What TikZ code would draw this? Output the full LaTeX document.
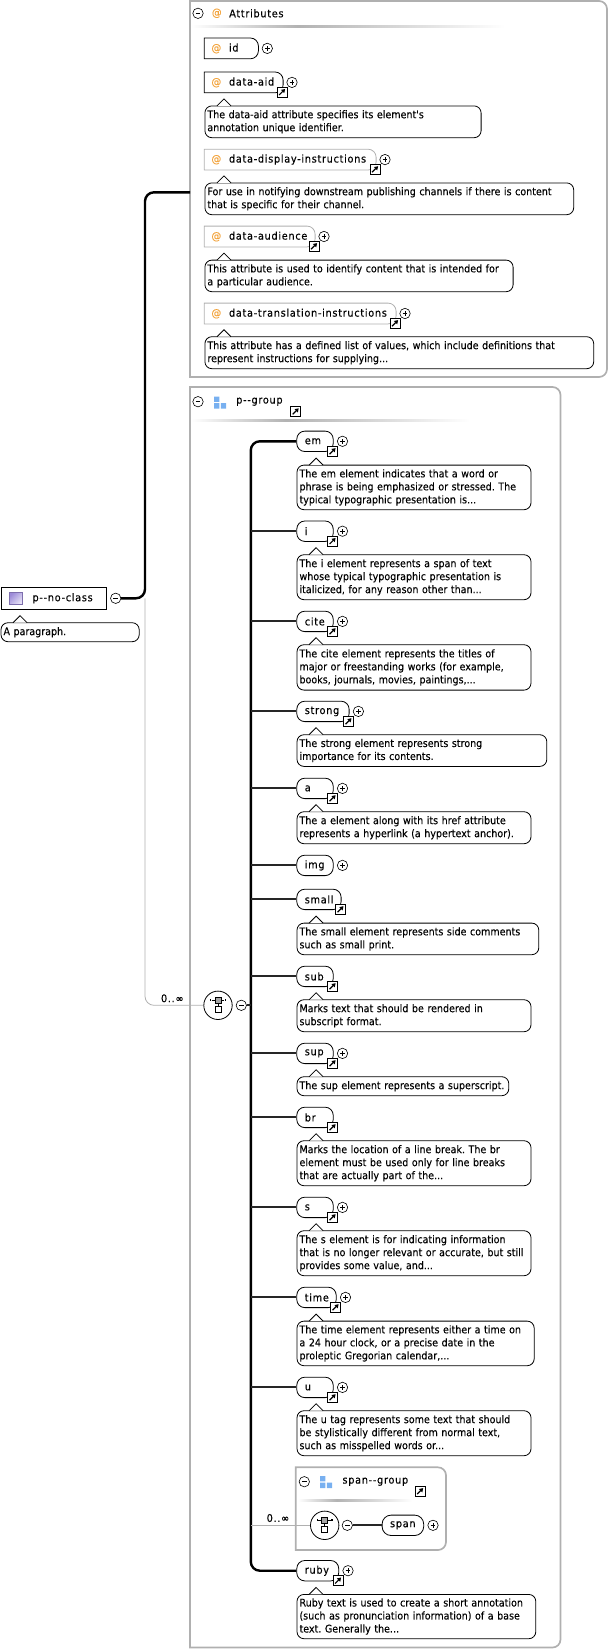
\documentclass[tikz,border=0pt]{standalone}
\usepackage{fontspec}
\usepackage{xcolor}
\usepackage{tikz}
\usetikzlibrary{arrows.meta,positioning}

\newfontfamily\notefont[FakeStretch=0.90,FakeBold=0.12]{DejaVu Sans}
\newfontfamily\labfont[FakeStretch=0.92,FakeBold=0.12,LetterSpace=6.5]{DejaVu Sans}

\definecolor{atorange}{HTML}{F2A33C}
\definecolor{grpblue}{HTML}{78B0F0}
\definecolor{boxgray}{HTML}{B0B0B0}
\definecolor{rootpurple}{HTML}{9C8AD8}

\pgfdeclarehorizontalshading{sepfade}{100bp}{color(0bp)=(white); color(25bp)=(white); color(42bp)=(black!30); color(75bp)=(white); color(100bp)=(white)}

\tikzset{
    elem/.style={draw, rounded corners=8pt, fill=white, anchor=west, minimum height=20.4pt,
        text width=#1pt, inner xsep=0pt, inner ysep=0pt, align=left, line width=.8pt,
        font=\labfont\fontsize{10.6}{12}\selectfont, execute at begin node=\hspace*{8pt}},
    attr/.style={anchor=west, minimum height=20.4pt, text width=#1pt, inner xsep=0pt, inner ysep=0pt,
        align=left, font=\labfont\fontsize{10.6}{12}\selectfont, execute at begin node=\hspace*{7pt}},
    note/.style={draw, rounded corners=7pt, fill=white, anchor=north west, text width=#1pt-5pt,
        inner xsep=2.5pt, inner ysep=0pt, align=left, line width=.8pt,
        font=\notefont\fontsize{10.6}{13}\selectfont\frenchspacing},
    notetip/.style={fill=white, line width=.8pt},
    plusbtn/.style={circle, draw, fill=white, minimum size=10.4pt, inner sep=0pt, line width=.6pt,
        path picture={\draw[line width=.6pt] (path picture bounding box.center) +(-2.4pt,0) -- +(2.4pt,0)
            (path picture bounding box.center) +(0,-2.4pt) -- +(0,2.4pt);}},
    minusbtn/.style={circle, draw, fill=white, minimum size=10.4pt, inner sep=0pt, line width=.6pt,
        path picture={\draw[line width=.6pt] (path picture bounding box.center) +(-2.4pt,0) -- +(2.4pt,0);}},
    linkicon/.style={draw, fill=white, minimum size=10pt, inner sep=0pt, line width=.8pt,
        path picture={\draw[line width=1.2pt, -{Triangle[length=3.6pt,width=4.4pt]}]
            (path picture bounding box.center) +(-2.8pt,-2.8pt) -- +(3.2pt,3.2pt);}},
    typetext/.style={anchor=west, inner sep=0pt, font=\labfont\fontsize{10.6}{12}\selectfont},
    occurs/.style={anchor=center, inner sep=0pt, font=\labfont\fontsize{10.6}{12}\selectfont},
    choicebtn/.style={circle, draw, fill=white, minimum size=28.4pt, inner sep=0pt, line width=.8pt},
    smallsq/.style={draw, line width=.6pt, minimum size=6pt, inner sep=0pt},
    dot/.style={fill, minimum size=1.6pt, inner sep=0pt},
    grpbox/.style={draw=boxgray, line width=1.7pt},
    spine/.style={line width=2.4pt},
    branch/.style={line width=2pt, black!85},
    thinline/.style={draw=boxgray, line width=.8pt},
    attrline/.style={line width=.8pt, draw=#1},
    sepline/.style={shading=sepfade}
}

% outline that is square on the left
\newcommand{\leftsquare}[2]{\draw #2 (#1.south west) -- (#1.north west) [rounded corners=8pt] -- (#1.north east) -- (#1.south east) [sharp corners] -- cycle;}
\newcommand{\notetipon}[1]{\draw[notetip] ([xshift=12.5pt,yshift=-.4pt]#1.north west) -- ++(7,-7) -- ++(7,7);}
\newcommand{\grpicon}[1]{\fill[grpblue] (#1) +(0,0) rectangle +(5.4,5.4) +(0,6.6) rectangle +(5.4,12) +(6.8,6.6) rectangle +(12.2,12);}
\newcommand{\choicemark}[1]{%
    \node[smallsq, fill=black!35] (#1up) at ([yshift=5.2pt]#1) {};
    \node[smallsq, fill=white] (#1low) at ([yshift=-4pt]#1) {};
    \node[dot] (#1l) at ([xshift=-7.4pt,yshift=5.2pt]#1) {};
    \node[dot] (#1r) at ([xshift=7.4pt,yshift=5.2pt]#1) {};
    \draw[line width=.6pt] (#1l) -- (#1up) (#1up) -- (#1r) (#1up) -- (#1low);
}

\begin{document}
\begin{tikzpicture}[x=1pt,y=-1pt]
    \useasboundingbox (0,0) rectangle (609,1649);

    % the two group frames
    \draw[grpbox] (190,377) -- (190,1) [rounded corners=8pt] -- (607,1) -- (607,377) [sharp corners] -- cycle;
    \draw[grpbox] (190,1647.5) -- (190,387) [rounded corners=8pt] -- (560.5,387) -- (560.5,1647.5) [sharp corners] -- cycle;
    \shade[sepline] (191,25.5) rectangle (505,27.5);
    \shade[sepline] (191,419) rectangle (470,421);

    % root element
    \node[draw, anchor=west, minimum height=22pt, text width=105.6pt, inner xsep=0pt, inner ysep=0pt, line width=.9pt,
        align=left, font=\labfont\fontsize{10.6}{12}\selectfont, execute at begin node=\hspace*{31.5pt}]
        (root) at (.6,598.3) {p--no-class};
    \shade[draw=rootpurple!80!black, line width=.5pt, left color=rootpurple, right color=rootpurple!25, shading angle=45] (9.5,592) rectangle (22,604.6);
    \node[minusbtn] (rootminus) at (115.7,598.3) {};
    \coordinate (trunk) at (145,598.3);
    \coordinate (attrin) at (190,192.3);

    % attributes
    \node[minusbtn] (attrminus) at (198,13.3) {};
    \node[typetext, text=atorange] (attrat) at (211.7,13.3) {@};
    \node[typetext] (attrname) at (229,13.3) {Attributes};

    \foreach \id/\lab/\y/\wid/\col in {
        id/id/48.4/53.7/black,
        dataaid/data-aid/82.4/78.4/black,
        datadisplay/data-display-instructions/159.6/171.4/boxgray,
        dataaudience/data-audience/236.5/110.4/boxgray,
        datatranslation/data-translation-instructions/313.5/191.4/boxgray}{
        \node[attr=\wid] (\id) at (204.3,\y) {\makebox[17.5pt][l]{\textcolor{atorange}{@}}\lab};
        \leftsquare{\id}{[attrline=\col]}
        \node[plusbtn, right=3.4pt of \id] (\id plus) {};
    }
    \foreach \id in {dataaid,datadisplay,dataaudience,datatranslation}
        \node[linkicon] (\id link) at ([xshift=-1.2pt,yshift=.6pt]\id.south east) {};

    % elements of the group
    \node[minusbtn] (grpminus) at (198,401.7) {};
    \grpicon{214,396.5}
    \node[typetext] (grpname) at (236,401.7) {p--group};
    \node[linkicon] (grplink) at (295.5,411.5) {};

    \foreach \id/\lab/\y/\wid in {
        em/em/441.3/36.4, i/i/531.2/36.4, cite/cite/621.4/36.4, strong/strong/711.4/52.3,
        a/a/788.4/36.4, img/img/865.4/36.4, small/small/899.4/44.3, sub/sub/976.4/36.4,
        sup/sup/1053.4/36.4, br/br/1117.4/36.4, s/s/1207.4/36.4, time/time/1297.4/39.4,
        u/u/1387.4/36.4, ruby/ruby/1570.7/41.9}
        \node[elem=\wid] (\id) at (296.4,\y) {\lab};

    \foreach \id in {em,i,cite,strong,a,img,sup,s,time,u,ruby}
        \node[plusbtn, right=3.4pt of \id] (\id plus) {};
    \foreach \id in {em,i,cite,strong,a,small,sub,sup,br,s,time,u,ruby}
        \node[linkicon] (\id link) at ([xshift=-1.2pt,yshift=.6pt]\id.south east) {};

    % annotations
    \foreach \id/\x/\ytop/\hgt/\wid/\txt in {
        root/.6/622.3/19/138.2/{A paragraph.},
        dataaid/204.5/105.5/31.8/276.2/{The data-aid attribute specifies its element's\\annotation unique identifier.},
        datadisplay/204.5/182.5/31.8/368.8/{For use in notifying downstream publishing channels if there is content\\that is specific for their channel.},
        dataaudience/204.5/259.7/31.6/308.2/{This attribute is used to identify content that is intended for\\a particular audience.},
        datatranslation/204.5/336.3/32/388.8/{This attribute has a defined list of values, which include definitions that\\represent instructions for supplying...},
        em/296.6/464.7/44.6/234/{The em element indicates that a word or\\phrase is being emphasized or stressed. The\\typical typographic presentation is...},
        i/296.6/554.3/45/234/{The i element represents a span of text\\whose typical typographic presentation is\\italicized, for any reason other than...},
        cite/296.6/644.3/45.4/234/{The cite element represents the titles of\\major or freestanding works (for example,\\books, journals, movies, paintings,...},
        strong/296.6/734.3/31.7/249.8/{The strong element represents strong\\importance for its contents.},
        a/296.6/811.3/32/234/{The a element along with its href attribute\\represents a hyperlink (a hypertext anchor).},
        small/296.6/922.7/31.6/241.8/{The small element represents side comments\\such as small print.},
        sub/296.6/999.3/32/234/{Marks text that should be rendered in\\subscript format.},
        sup/296.6/1076.3/19/211.8/{The sup element represents a superscript.},
        br/296.6/1140.3/45/234/{Marks the location of a line break. The br\\element must be used only for line breaks\\that are actually part of the...},
        s/296.6/1230.3/45/234/{The s element is for indicating information\\that is no longer relevant or accurate, but still\\provides some value, and...},
        time/296.6/1320.7/44.6/237.2/{The time element represents either a time on\\a 24 hour clock, or a precise date in the\\proleptic Gregorian calendar,...},
        u/296.6/1410.3/45/234/{The u tag represents some text that should\\be stylistically different from normal text,\\such as misspelled words or...},
        ruby/296.6/1594/44.3/238.8/{Ruby text is used to create a short annotation\\(such as pronunciation information) of a base\\text. Generally the...}}{
        \node[note=\wid, minimum height=\hgt pt] (\id note) at (\x,\ytop) {\txt};
        \notetipon{\id note}
    }

    % choice and its branches
    \node[choicebtn] (choice) at (218,1005.3) {};
    \choicemark{choice}
    \node[minusbtn] (choiceminus) at (241.3,1005.3) {};
    \node[occurs] (choiceocc) at (172.3,998.3) {0..∞};
    \coordinate (spinept) at (250.8,1005.3);

    \draw[thinline, rounded corners=9pt] (trunk) |- (choice.west);
    \draw[spine, rounded corners=9pt] (rootminus.east) -- (trunk) |- (attrin);
    \draw[spine, rounded corners=9pt] (em.west) -| (spinept) |- (ruby.west);
    \draw[branch] (choiceminus) -- (spinept);
    \foreach \id in {i,cite,strong,a,img,small,sub,sup,br,s,time,u}
        \draw[branch] (\id.west) -- (\id.west -| spinept);

    % nested span group
    \draw[grpbox] (295.7,1550) -- (295.7,1467.3) [rounded corners=8pt] -- (446,1467.3) -- (446,1550) [sharp corners] -- cycle;
    \shade[sepline] (298,1499) rectangle (412,1501);
    \node[minusbtn] (spanminus) at (304.3,1481.7) {};
    \grpicon{320,1476}
    \node[typetext] (spanname) at (342.3,1481.7) {span--group};
    \node[linkicon] (spanlink) at (420,1491.3) {};
    \node[choicebtn] (spanchoice) at (324.7,1525.3) {};
    \choicemark{spanchoice}
    \node[minusbtn] (spanchoiceminus) at (347.3,1525.3) {};
    \node[elem=41.6, rounded corners=9pt] (span) at (381.7,1525.3) {span};
    \node[plusbtn, right=3.4pt of span] (spanplus) {};
    \node[occurs] (spanocc) at (278,1518) {0..∞};
    \draw[thinline] (spinept |- spanchoice) -- (spanchoice.west);
    \draw[branch] (spanchoiceminus) -- (span.west);
\end{tikzpicture}
\end{document}
